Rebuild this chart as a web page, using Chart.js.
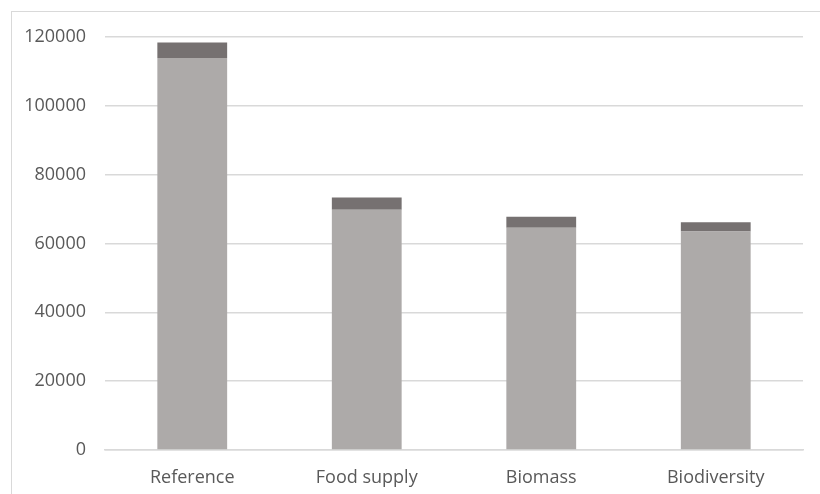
<!DOCTYPE html>
<html>
<head>
<meta charset="utf-8">
<script src="https://cdn.jsdelivr.net/npm/chart.js@4/dist/chart.umd.min.js"></script>
<style>
  html, body { margin: 0; padding: 0; background: #fff; }
  #frame {
    position: absolute; left: 11px; top: 11px; width: 820px; height: 494px;
    border-left: 1px solid #d9d9d9; border-top: 1px solid #d9d9d9;
  }
  #wrap { position: absolute; left: 0; top: 0; width: 820px; height: 494px; }
</style>
</head>
<body>
<div id="frame"></div>
<div id="wrap"><canvas id="chart"></canvas></div>
<script>
var categories = ['Reference', 'Food supply', 'Biomass', 'Biodiversity'];
var baseValues = [113900, 69800, 64600, 63500];
var topValues = [4500, 3600, 3200, 2700];
var yTicks = [0, 20000, 40000, 60000, 80000, 100000, 120000];

var textColour = '#595959';
var gridColour = '#d9d9d9';

const data = {
    labels: categories,
    datasets: [
        {
            label: 'Base',
            data: baseValues,
            backgroundColor: '#adaaa9',
            barPercentage: 0.4,
            categoryPercentage: 1
        },
        {
            label: 'Top',
            data: topValues,
            backgroundColor: '#767171',
            barPercentage: 0.4,
            categoryPercentage: 1
        }
    ]
};

const config = {
    type: 'bar',
    data,
    options: {
        animation: false,
        responsive: true,
        maintainAspectRatio: false,
        layout: { padding: { left: 0, right: 17, top: 37, bottom: 0 } },
        plugins: {
            legend: { display: false },
            tooltip: { enabled: false }
        },
        scales: {
            x: {
                stacked: true,
                grid: { display: false, drawTicks: false },
                border: { display: true, color: gridColour, width: 1.5 },
                ticks: {
                    color: textColour,
                    padding: 17,
                    font: { family: 'Open Sans', size: 18 }
                },
                afterFit: function (scale) { scale.height = 44; }
            },
            y: {
                stacked: true,
                min: 0,
                max: 120000,
                afterBuildTicks: function (scale) {
                    scale.ticks = yTicks.map(function (v) { return { value: v }; });
                },
                grid: { color: gridColour, lineWidth: 1.5, drawTicks: false },
                border: { display: false },
                ticks: {
                    color: textColour,
                    padding: 19,
                    font: { family: 'Open Sans', size: 18 },
                    callback: function (v) { return String(v); }
                },
                afterFit: function (scale) { scale.width = 105; }
            }
        }
    }
};

new Chart(document.getElementById('chart'), config);
</script>
</body>
</html>
